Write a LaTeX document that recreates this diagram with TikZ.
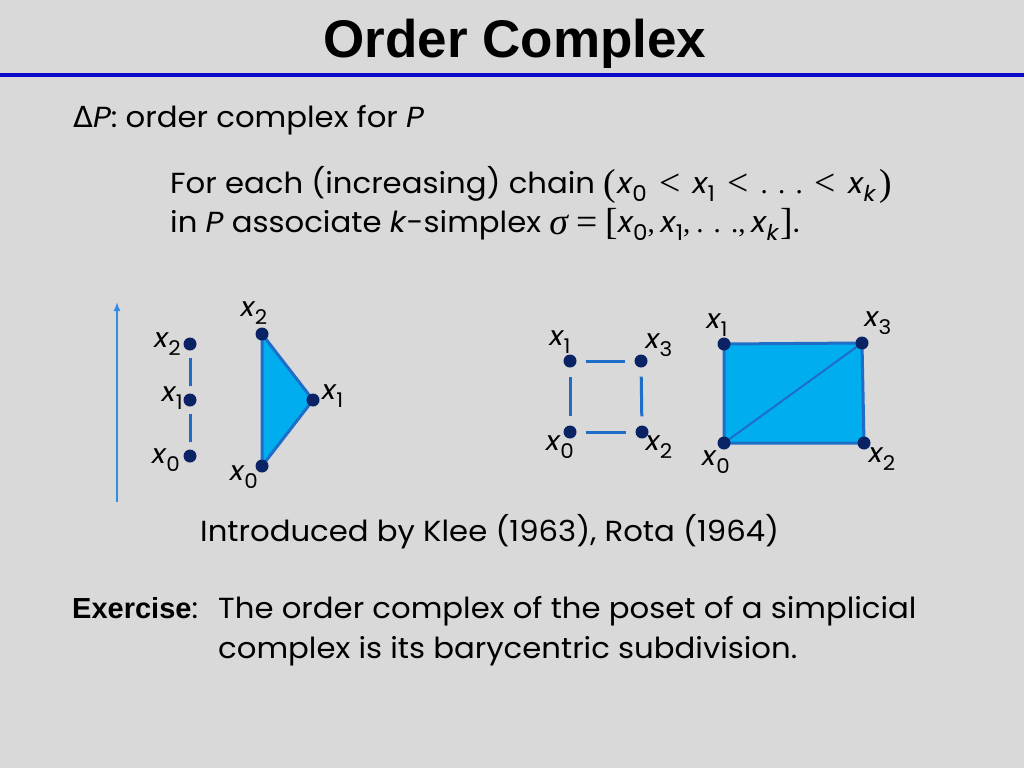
\documentclass[tikz,border=0pt]{standalone}
\usepackage{fontspec}
\usepackage{graphicx}
\usetikzlibrary{arrows.meta}
\setmainfont{Poppins}[FakeStretch=1.06]
\newfontfamily\titlefont{Liberation Sans}
\newfontfamily\gkfont{DejaVu Sans}
\newfontfamily\symf{Liberation Serif}
\definecolor{bg}{RGB}{217,217,217}
\definecolor{rule}{RGB}{10,10,200}
\definecolor{fillc}{RGB}{0,174,239}
\definecolor{edgec}{RGB}{30,110,200}
\definecolor{dotc}{RGB}{10,35,100}
\definecolor{arrc}{RGB}{50,140,230}
\newcommand\vx[1]{\textit{x}\kern-0.02em\raisebox{-0.3em}{\scalebox{0.75}{#1}}}
\newcommand\sy[1]{\raisebox{-0.08em}{\scalebox{1.3}{\symf #1}}}
\newcommand\lt{\hspace{0.42em}\sy{<}\hspace{0.42em}}
\newcommand\dts{{\symf .\kern0.35em.\kern0.35em.}}
\tikzset{
  body/.style={anchor=base west, inner sep=0pt, font=\fontsize{29}{34}\selectfont},
  lab/.style={inner sep=0pt, font=\fontsize{27}{30}\selectfont},
  pt/.style={circle, fill=dotc, inner sep=0pt, minimum size=13pt},
  edge/.style={draw=edgec, line width=3pt},
  simp/.style={fill=fillc, draw=edgec, line width=3pt, line join=round},
}
\begin{document}
\begin{tikzpicture}[x=1pt,y=-1pt]
\useasboundingbox (0,0) rectangle (1024,768);
\fill[bg] (0,0) rectangle (1024,768);
\node[anchor=base, inner sep=0pt, font=\titlefont\bfseries\fontsize{53}{60}\selectfont] (title) at (515,57) {Order Complex};
\coordinate (rl) at (0,75); \coordinate (rr) at (1024,75);
\draw[rule, line width=3.5pt] (rl) -- (rr);

\node[body] (def) at (73,127) {{\gkfont Δ}\textit{P}: order complex for \textit{P}};
\node[body] (l1) at (170,193) {For each (increasing) chain \sy{(}\kern0.05em\vx{0}\lt\vx{1}\lt\dts\lt\vx{\textit{k}}\kern0.1em\sy{)}};
\node[body] (l2) at (170,232) {in \textit{P} associate \textit{k}-simplex \sy{\itshape σ} \sy{=} \sy{[}\vx{0}{\symf ,}\kern0.2em\vx{1}{\symf ,}\kern0.2em\dts{\symf ,}\kern0.2em\vx{\textit{k}}\kern0.05em\sy{]}.};

% arrow
\coordinate (a0) at (117,502); \coordinate (a1) at (117,302);
\draw[arrc, line width=1.5pt, -{Latex[length=9pt,width=7pt]}] (a0) -- (a1);

% chain
\node[pt] (c0) at (190,456) {};
\node[pt] (c1) at (190,400) {};
\node[pt] (c2) at (190,344) {};
\draw[edge, shorten <=7pt, shorten >=7pt] (c0) -- (c1);
\draw[edge, shorten <=7pt, shorten >=7pt] (c1) -- (c2);
\node[lab, anchor=east] at (181,344) {\vx{2}};
\node[lab, anchor=east] at (183,398) {\vx{1}};
\node[lab, anchor=east] at (180,460) {\vx{0}};

% triangle
\coordinate (t0) at (262,466); \coordinate (t1) at (313,400); \coordinate (t2) at (262,334);
\path[simp] (t0) -- (t1) -- (t2) -- cycle;
\node[pt] (T0) at (t0) {}; \node[pt] (T1) at (t1) {}; \node[pt] (T2) at (t2) {};
\node[lab] at (254,313) {\vx{2}};
\node[lab, anchor=west] at (322,396) {\vx{1}};
\node[lab] at (244,477) {\vx{0}};

% square
\node[pt] (s0) at (570,432) {};
\node[pt] (s1) at (570,361) {};
\node[pt] (s2) at (642,432) {};
\node[pt] (s3) at (641,361) {};
\draw[edge, shorten <=9pt, shorten >=9pt] (s0) -- (s1);
\draw[edge, shorten <=9pt, shorten >=9pt] (s1) -- (s3);
\draw[edge, shorten <=9pt, shorten >=9pt] (s0) -- (s2);
\draw[edge, shorten <=9pt, shorten >=9pt] (s2) -- (s3);
\node[lab] at (560,342) {\vx{1}};
\node[lab] at (659,345) {\vx{3}};
\node[lab] at (560,447) {\vx{0}};
\node[lab] at (659,447) {\vx{2}};

% filled rectangle
\coordinate (r0) at (724,443); \coordinate (r1) at (724,344);
\coordinate (r2) at (864,443); \coordinate (r3) at (862,343);
\path[simp] (r0) -- (r1) -- (r3) -- (r2) -- cycle;
\draw[edgec, line width=2pt] (r0) -- (r3);
\node[pt] (R0) at (r0) {}; \node[pt] (R1) at (r1) {};
\node[pt] (R2) at (r2) {}; \node[pt] (R3) at (r3) {};
\node[lab] at (717,325) {\vx{1}};
\node[lab] at (878,323) {\vx{3}};
\node[lab] at (716,462) {\vx{0}};
\node[lab] at (882,459) {\vx{2}};

\node[body] (intro) at (200,541) {Introduced by Klee (1963), Rota (1964)};
\node[body] (ex) at (72,618) {{\titlefont\bfseries\fontsize{29}{32}\selectfont Exercise}:};
\node[body] (e1) at (218,618) {The order complex of the poset of a simplicial};
\node[body] (e2) at (218,658) {complex is its barycentric subdivision.};
\end{tikzpicture}
\end{document}
